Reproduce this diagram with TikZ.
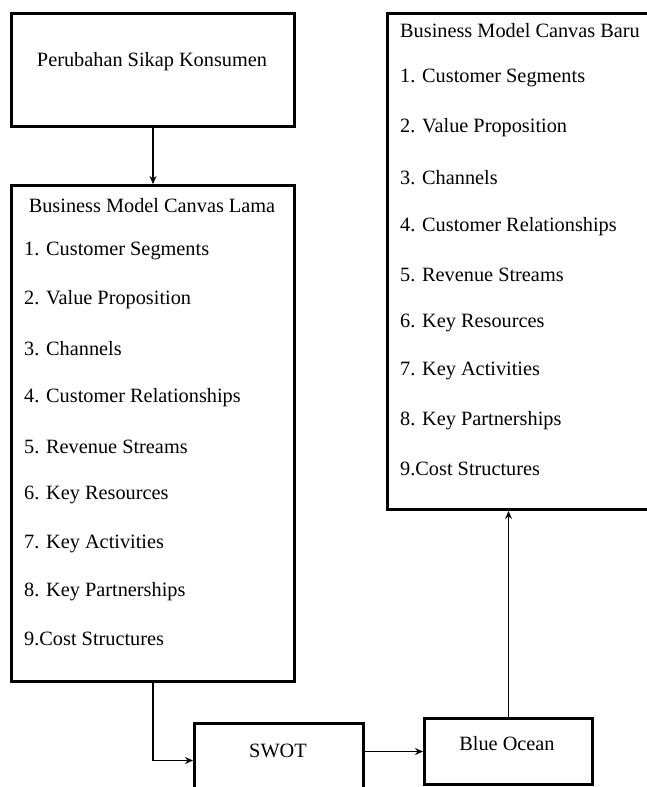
\documentclass[tikz,border=0pt]{standalone}
\usepackage{fontspec}
\setmainfont{Liberation Serif}
\usetikzlibrary{arrows.meta}
\begin{document}
\begin{tikzpicture}[x=1pt,y=-1pt,
  box/.style={draw,line width=3pt,inner sep=0pt,anchor=north west},
  lbl/.style={font=\fontsize{20.3}{23}\selectfont,inner sep=0pt},
  item/.style={lbl,anchor=west},
  conn/.style={line width=1.8pt,-{Stealth[length=8pt,width=7pt]}}]
\useasboundingbox (0,0) rectangle (647,787);
% boxes
\node[box,minimum width=283pt,minimum height=113pt] (top) at (10,12) {};
\node[box,minimum width=283pt,minimum height=496pt] (lama) at (10,184) {};
\node[box,minimum width=290pt,minimum height=496pt] (baru) at (386,12) {};
\node[box,minimum width=169pt,minimum height=90pt] (swot) at (193,722) {};
\node[box,minimum width=168pt,minimum height=66pt] (blue) at (423,717) {};
% texts
\node[lbl] (toptext) at (152,62) {Perubahan Sikap Konsumen};
\node[lbl] (lamatitle) at (152,206) {Business Model Canvas Lama};
\node[item] (l1) at (24,251) {1. Customer Segments};
\node[item] (l2) at (24,300) {2. Value Proposition};
\node[item] (l3) at (24,349) {3. Channels};
\node[item] (l4) at (24,398) {4. Customer Relationships};
\node[item] (l5) at (24,447) {5. Revenue Streams};
\node[item] (l6) at (24,495) {6. Key Resources};
\node[item] (l7) at (24,544) {7. Key Activities};
\node[item] (l8) at (24,592) {8. Key Partnerships};
\node[item] (l9) at (24,639) {9.Cost Structures};
\node[item] (barutitle) at (400,31) {Business Model Canvas Baru};
\node[item] (b1) at (400,78) {1. Customer Segments};
\node[item] (b2) at (400,128) {2. Value Proposition};
\node[item] (b3) at (400,178) {3. Channels};
\node[item] (b4) at (400,227) {4. Customer Relationships};
\node[item] (b5) at (400,275) {5. Revenue Streams};
\node[item] (b6) at (400,323) {6. Key Resources};
\node[item] (b7) at (400,371) {7. Key Activities};
\node[item] (b8) at (400,421) {8. Key Partnerships};
\node[item] (b9) at (400,469) {9.Cost Structures};
\node[lbl] (swottext) at (278,751) {SWOT};
\node[lbl] (bluetext) at (507,744) {Blue Ocean};
% connectors
\draw[conn] (top.south) -- (lama.north);
\draw[conn] (lama.south) |- ([yshift=8pt]swot.west);
\draw[conn] (blue.west -| swot.east) -- (blue.west);
\draw[conn] (blue.north) -- (blue.north |- baru.south);
\end{tikzpicture}
\end{document}
